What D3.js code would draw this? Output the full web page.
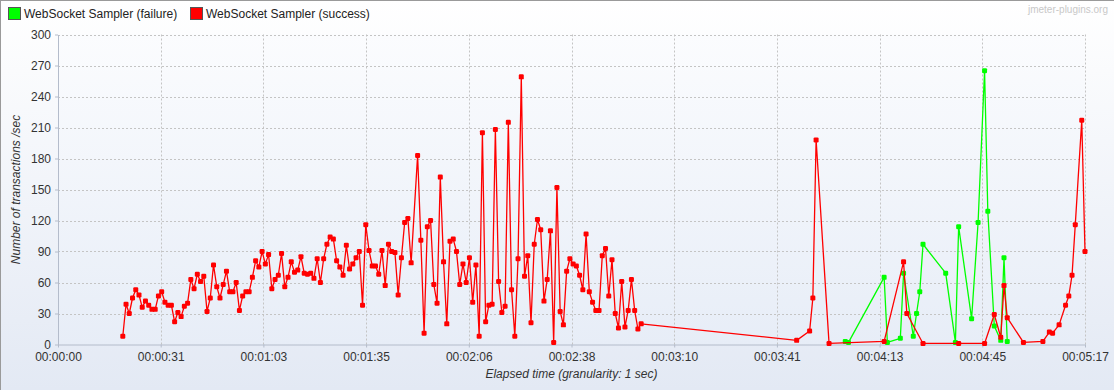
<!DOCTYPE html>
<html>
<head>
<meta charset="utf-8">
<script src="https://cdnjs.cloudflare.com/ajax/libs/d3/7.8.5/d3.min.js"></script>
<style>
  html, body { margin: 0; padding: 0; background: #fff; }
  svg { display: block; font-family: "Liberation Sans", Arial, sans-serif; }
</style>
</head>
<body>
<svg id="chart" width="1114" height="390"></svg>
<script>
// ===== Data (elapsed second -> transactions/sec) =====
const seriesNames = ['WebSocket Sampler (failure)', 'WebSocket Sampler (success)'];
const seriesColors = ['#00ff00', '#ff0000'];

const successSec = [
  20, 21, 22, 23, 24, 25, 26, 27, 28, 29, 30, 31, 32, 33, 34, 35, 36, 37, 38, 39,
  40, 41, 42, 43, 44, 45, 46, 47, 48, 49, 50, 51, 52, 53, 54, 55, 56, 57, 58, 59,
  60, 61, 62, 63, 64, 65, 66, 67, 68, 69, 70, 71, 72, 73, 74, 75, 76, 77, 78, 79,
  80, 81, 82, 83, 84, 85, 86, 87, 88, 89, 90, 91, 92, 93, 94, 95, 96, 97, 98, 99,
  100, 101, 102, 103, 104, 105, 106, 107, 108, 109, 111, 112, 113, 114, 115, 116, 117, 118, 119,
  120, 121, 122, 123, 124, 125, 126, 127, 128, 129, 130, 131, 132, 133, 134, 135, 136, 137, 138, 139,
  140, 141, 142, 143, 144, 145, 146, 147, 148, 149, 150, 151, 152, 153, 154, 155, 156, 157, 158, 159,
  160, 161, 162, 163, 164, 165, 166, 167, 168, 169, 170, 171, 172, 173, 174, 175, 176, 177, 178, 179,
  180, 228, 232, 233, 234, 238, 255, 261, 262, 267, 278, 286, 289, 291, 292, 293,
  298, 304, 306, 307, 309, 311, 312, 313, 314, 316, 317
];
const successVal = [
  8, 39, 30, 45, 53, 48, 36, 42, 38, 34, 34, 47, 51, 41, 38, 38, 22, 31, 27, 37,
  40, 63, 54, 68, 61, 66, 32, 45, 77, 56, 45, 58, 71, 51, 51, 60, 33, 47, 51, 51,
  65, 81, 75, 90, 78, 87, 54, 63, 67, 88, 56, 65, 80, 70, 72, 85, 69, 68, 69, 64,
  83, 60, 83, 97, 104, 102, 81, 75, 67, 96, 73, 78, 84, 90, 38, 116, 91, 76, 76, 68,
  91, 57, 97, 90, 89, 48, 84, 118, 122, 79, 183, 101, 11, 114, 120, 58, 40, 162, 80,
  20, 100, 102, 90, 58, 78, 60, 84, 41, 77, 8, 205, 22, 38, 39, 208, 61, 31, 37, 215,
  53, 8, 83, 259, 66, 86, 21, 97, 121, 111, 42, 63, 110, 2, 152, 32, 19, 71, 83, 78,
  76, 67, 53, 107, 51, 41, 33, 33, 86, 93, 47, 82, 30, 16, 61, 17, 33, 63, 33, 15,
  20, 4, 13, 45, 198, 1, 3, 80, 30, 1, 1, 1, 29, 7, 57, 26,
  2, 3, 12, 11, 19, 38, 47, 67, 116, 217, 90
];

const failureSec = [243, 244, 255, 256, 260, 261, 264, 265, 266, 267, 274, 277, 278, 282, 284, 286, 287, 289, 291, 292, 293];
const failureVal = [3, 2, 65, 2, 6, 69, 8, 30, 51, 97, 69, 2, 114, 25, 118, 265, 129, 18, 4, 84, 3];

const yTicks = [0, 30, 60, 90, 120, 150, 180, 210, 240, 270, 300];
const xMaxSec = 317;
const xTickCount = 10;

// ===== Layout =====
const W = 1114, H = 390;
const plot = { left: 58, right: 1085, top: 34.5, bottom: 344.5 };

const svg = d3.select('#chart');
const defs = svg.append('defs');

// background gradients
const bgGrad = defs.append('linearGradient').attr('id', 'bgGrad')
    .attr('x1', 0).attr('y1', 0).attr('x2', 0).attr('y2', 1);
bgGrad.append('stop').attr('offset', '0%').attr('stop-color', '#ffffff');
bgGrad.append('stop').attr('offset', '100%').attr('stop-color', '#e3e9f4');

const plotGrad = defs.append('linearGradient').attr('id', 'plotGrad')
    .attr('x1', 0).attr('y1', 0).attr('x2', 0).attr('y2', 1);
plotGrad.append('stop').attr('offset', '0%').attr('stop-color', '#fbfcfe');
plotGrad.append('stop').attr('offset', '100%').attr('stop-color', '#e7edf7');

svg.append('rect').attr('width', W).attr('height', H).attr('fill', 'url(#bgGrad)');
// outer border (top/left)
svg.append('rect').attr('x', 0.5).attr('y', 0.5).attr('width', W).attr('height', H)
    .attr('fill', 'none').attr('stroke', '#9a9a9a');

svg.append('rect')
    .attr('x', plot.left).attr('y', plot.top)
    .attr('width', plot.right - plot.left).attr('height', plot.bottom - plot.top)
    .attr('fill', 'url(#plotGrad)');

// ===== Scales =====
const x = d3.scaleLinear().domain([0, xMaxSec]).range([plot.left, plot.right]);
const y = d3.scaleLinear().domain([0, 300]).range([plot.bottom, plot.top]);

const xTickVals = d3.range(xTickCount + 1).map(i => i * xMaxSec / xTickCount);
const fmtTime = s => {
    const t = Math.floor(s + 1e-6);
    const pad = n => String(n).padStart(2, '0');
    return pad(Math.floor(t / 3600)) + ':' + pad(Math.floor(t / 60) % 60) + ':' + pad(t % 60);
};

// ===== Grid =====
const grid = svg.append('g').attr('class', 'grid')
    .attr('stroke', '#c4c4c4').attr('stroke-dasharray', '2,2').attr('stroke-width', 1);
yTicks.filter(v => v > 0).forEach(v => {
    grid.append('line')
        .attr('x1', plot.left).attr('x2', plot.right)
        .attr('y1', Math.round(y(v)) + 0.5).attr('y2', Math.round(y(v)) + 0.5);
});
xTickVals.filter(v => v > 0).forEach(v => {
    grid.append('line')
        .attr('x1', Math.round(x(v)) + 0.5).attr('x2', Math.round(x(v)) + 0.5)
        .attr('y1', plot.top).attr('y2', plot.bottom);
});

// ===== Axes =====
const xAxis = d3.axisBottom(x).tickValues(xTickVals).tickFormat(fmtTime)
    .tickSizeInner(3).tickSizeOuter(0).tickPadding(5);
const yAxis = d3.axisLeft(y).tickValues(yTicks)
    .tickSizeInner(3).tickSizeOuter(0).tickPadding(4);

const gx = svg.append('g').attr('transform', `translate(0,${plot.bottom})`).call(xAxis);
const gy = svg.append('g').attr('transform', `translate(${plot.left},0)`).call(yAxis);

[gx, gy].forEach(g => {
    g.select('.domain').attr('stroke', '#b4bccb');
    g.selectAll('.tick line').attr('stroke', '#b4bccb');
    g.selectAll('.tick text')
        .attr('fill', '#333')
        .style('font-size', '12px')
        .style('font-family', '"Liberation Sans", Arial, sans-serif');
});

// axis titles
svg.append('text')
    .attr('x', (plot.left + plot.right) / 2).attr('y', 378)
    .attr('text-anchor', 'middle')
    .style('font-size', '12px').style('font-style', 'italic').attr('fill', '#333')
    .text('Elapsed time (granularity: 1 sec)');

svg.append('text')
    .attr('transform', `translate(20,${(plot.top + plot.bottom) / 2}) rotate(-90)`)
    .attr('text-anchor', 'middle')
    .style('font-size', '12px').style('font-style', 'italic').attr('fill', '#333')
    .text('Number of transactions /sec');

// ===== Series =====
const series = [
    { name: seriesNames[0], color: seriesColors[0], data: failureSec.map((s, i) => [s, failureVal[i]]) },
    { name: seriesNames[1], color: seriesColors[1], data: successSec.map((s, i) => [s, successVal[i]]) }
];

const line = d3.line().x(d => x(d[0])).y(d => y(d[1]));

const plotG = svg.append('g');
series.forEach(s => {
    plotG.append('path')
        .datum(s.data)
        .attr('d', line)
        .attr('fill', 'none')
        .attr('stroke', s.color)
        .attr('stroke-width', 1.3)
        .attr('stroke-linejoin', 'round');

    plotG.append('g').selectAll('rect')
        .data(s.data)
        .join('rect')
        .attr('x', d => x(d[0]) - 2.5).attr('y', d => y(d[1]) - 2.5)
        .attr('width', 5).attr('height', 5).attr('rx', 1.2)
        .attr('fill', s.color);
});

// ===== Legend =====
const legendX = [8, 190];
series.forEach((s, i) => {
    const lg = svg.append('g').attr('transform', `translate(${legendX[i]},7)`);
    lg.append('rect').attr('x', 0.5).attr('y', 0.5).attr('width', 12).attr('height', 12)
        .attr('fill', s.color).attr('stroke', '#555');
    lg.append('text').attr('x', 16).attr('y', 11)
        .style('font-size', '12px').attr('fill', '#222')
        .text(s.name);
});

svg.append('text')
    .attr('x', 1108).attr('y', 13)
    .attr('text-anchor', 'end')
    .style('font-size', '10px').attr('fill', '#c8c8c8')
    .text('jmeter-plugins.org');
</script>
</body>
</html>
